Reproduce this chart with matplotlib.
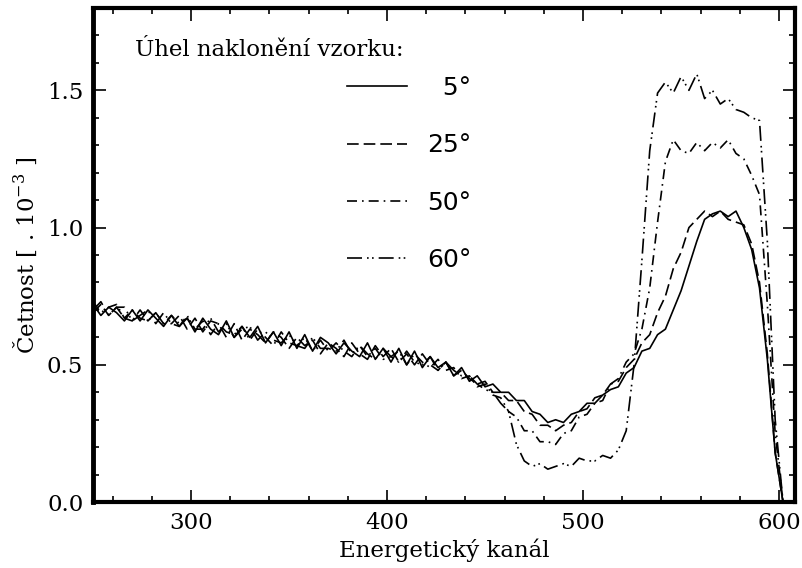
#!/usr/bin/python3
# -*- coding: UTF-8 -*-

import numpy as np
import matplotlib
matplotlib.use('Agg')
import matplotlib.pyplot as plt
from matplotlib.lines import Line2D

plt.rcParams['font.family'] = ['DejaVu Serif']
plt.rcParams['mathtext.fontset'] = 'dejavuserif'

## Data
kanal = np.arange(250, 603, 4)   # energeticky kanal, krok 4

uhel_5 = [.72,.68,.71,.69,.66,.70,.66,.70,.67,.64,
          .68,.64,.67,.62,.67,.63,.61,.66,.60,.64,
          .60,.64,.58,.62,.57,.62,.56,.61,.55,.60,
          .58,.54,.58,.55,.53,.58,.52,.56,.51,.56,
          .50,.55,.49,.53,.49,.51,.46,.49,.44,.46,
          .42,
          .43,.40,.40,.37,.37,.33,.32,.29,.30,.29,
          .32,.33,.36,.36,.39,.41,.42,.47,.49,.55,
          .56,.61,.63,.70,.77,.86,.95,1.03,1.05,1.06,
          1.04,1.06,1.00,.92,.78,.52,.18,0.0]

uhel_25 = [.69,.72,.68,.71,.67,.66,.70,.66,.69,.65,
           .65,.68,.63,.67,.62,.66,.65,.60,.65,.59,
           .63,.61,.58,.62,.60,.56,.60,.57,.59,.54,
           .58,.56,.53,.58,.54,.52,.57,.53,.56,.51,
           .54,.50,.54,.50,.48,.51,.46,.48,.45,.43,
           .44,
           .40,.40,.37,.37,.33,.32,.28,.28,.26,.28,
           .29,.33,.34,.38,.39,.43,.44,.49,.52,.58,
           .61,.69,.75,.85,.91,1.00,1.03,1.06,1.04,1.06,
           1.03,1.02,1.01,.94,.80,.54,.18,0.0]

uhel_50 = [.73,.69,.71,.72,.67,.70,.67,.66,.69,.65,
           .68,.65,.67,.63,.66,.61,.65,.62,.61,.64,
           .59,.63,.60,.57,.62,.58,.57,.60,.55,.59,
           .55,.58,.55,.53,.57,.53,.56,.52,.53,.55,
           .50,.54,.51,.49,.52,.48,.49,.45,.46,.42,
           .43,
           .39,.38,.33,.31,.26,.26,.22,.22,.21,.25,
           .26,.31,.32,.36,.37,.43,.45,.51,.54,.63,
           .78,1.02,1.24,1.32,1.28,1.27,1.31,1.28,1.31,1.29,
           1.32,1.27,1.25,1.19,1.12,.72,.25,0.0]

uhel_60 = [.70,.73,.68,.71,.71,.66,.68,.70,.65,.69,
           .65,.64,.68,.63,.63,.67,.62,.65,.60,.63,
           .64,.59,.62,.59,.58,.61,.57,.56,.60,.56,
           .56,.55,.59,.54,.57,.54,.52,.56,.53,.51,
           .55,.51,.50,.53,.48,.51,.48,.46,.46,.43,
           .41,
           .40,.36,.33,.21,.15,.13,.14,.12,.13,.14,
           .13,.16,.15,.15,.17,.16,.19,.26,.50,.88,
           1.28,1.49,1.53,1.49,1.55,1.50,1.56,1.47,1.50,1.45,
           1.47,1.43,1.42,1.40,1.39,.95,.30,0.0]

labels = ['\u20075°', '25°', '50°', '60°']
styles = ['-', (0, (7, 3)), (0, (6, 3, 1, 3)), (0, (9, 3, 1, 2, 1, 3))]

fig = plt.figure(figsize=(8.02, 5.68), dpi=100)
ax = fig.add_axes([0.116, 0.116, 0.875, 0.870])

for y, ls in zip([uhel_5, uhel_25, uhel_50, uhel_60], styles):
   ax.plot(kanal, y, color='black', lw=1.2, ls=ls)

ax.set_xlim(250, 608)
ax.set_ylim(0, 1.80)
ax.set_xticks([300, 400, 500, 600])
ax.set_xticks(np.arange(260, 608, 20), minor=True)
ax.set_yticks([0.0, 0.5, 1.0, 1.5])
ax.set_yticks(np.arange(0, 1.81, 0.1), minor=True)
ax.set_yticklabels(['0.0', '0.5', '1.0', '1.5'])
ax.tick_params(which='both', direction='in', top=True, right=True,
               labelsize=16.5, width=1.2, pad=7)
ax.tick_params(which='major', length=9)
ax.tick_params(which='minor', length=4.5)
for s in ax.spines.values():
   s.set_linewidth(3)
ax.spines['left'].set_linewidth(3.5)

ax.set_xlabel('Energetický kanál', fontsize=16.5, labelpad=3)
ax.set_ylabel(r'Četnost [ . 10$^{\mathregular{-3}}$ ]', fontsize=16.5, labelpad=6)

# legenda
ax.text(0.06, 0.915, 'Úhel naklonění vzorku:', transform=ax.transAxes,
        fontsize=16.5, va='center', ha='left')
handles = [Line2D([], [], color='black', lw=1.2, ls=ls) for ls in styles]
ax.legend(handles, labels, loc='upper left', bbox_to_anchor=(0.362, 0.862),
          frameon=False, handlelength=2.4, handletextpad=0.8,
          labelspacing=1.33, borderpad=0, borderaxespad=0,
          prop={'family': 'DejaVu Sans', 'size': 18})

fig.savefig('out.png', dpi=100)
